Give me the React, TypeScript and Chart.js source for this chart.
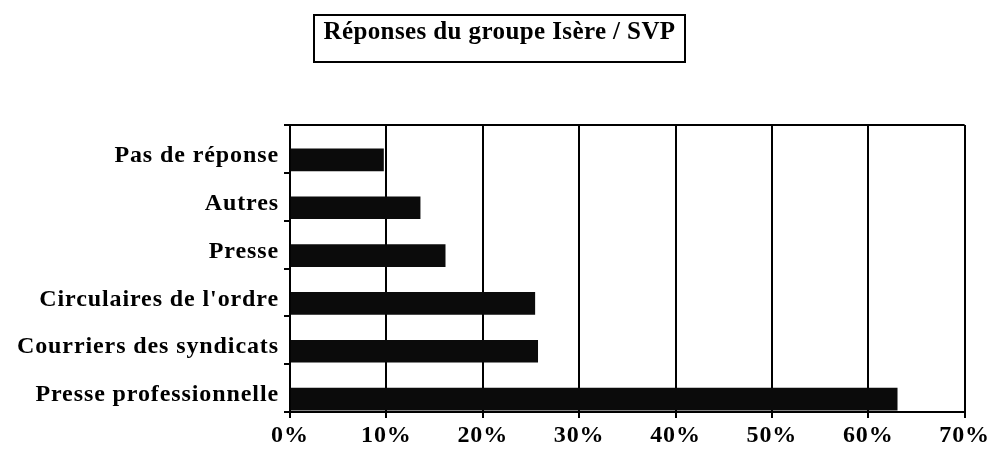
import React, { useEffect, useRef } from "react";
import { Chart, registerables } from "chart.js";

Chart.register(...registerables);

const title = "Réponses du groupe Isère / SVP";
const categories = [
  "Pas de réponse",
  "Autres",
  "Presse",
  "Circulaires de l'ordre",
  "Courriers des syndicats",
  "Presse professionnelle",
];
const values = [9.7, 13.5, 16.1, 25.4, 25.7, 63.0];
const placeholder = [0, 0, 0, 0, 0, 0];
const xMin = 0;
const xMax = 70;
const xStep = 10;

const FONT = "'Liberation Serif', 'Times New Roman', serif";
const SPACING = "0.9px";

const spacingPlugin = {
  id: "spacing",
  beforeInit(chart: any) {
    chart.ctx.letterSpacing = SPACING;
  },
  beforeUpdate(chart: any) {
    chart.ctx.letterSpacing = SPACING;
  },
  beforeDraw(chart: any) {
    chart.ctx.letterSpacing = SPACING;
  },
};

const frameTop = {
  id: "frameTop",
  afterDraw(chart: any) {
    const { ctx, chartArea } = chart;
    ctx.save();
    ctx.strokeStyle = "#000";
    ctx.lineWidth = 2;
    ctx.beginPath();
    ctx.moveTo(chartArea.left, chartArea.top);
    ctx.lineTo(chartArea.right, chartArea.top);
    ctx.stroke();
    ctx.restore();
  },
};

export default function App() {
  const ref = useRef<HTMLCanvasElement | null>(null);

  useEffect(() => {
    if (!ref.current) return;
    const chart = new Chart(ref.current, {
      type: "bar",
      data: {
        labels: categories,
        datasets: [
          {
            data: placeholder,
            backgroundColor: "rgba(0,0,0,0)",
            borderWidth: 0,
            barThickness: 22,
          },
          {
            data: values,
            backgroundColor: "#0b0b0b",
            borderWidth: 0,
            barThickness: 22,
          },
        ],
      },
      options: {
        indexAxis: "y",
        animation: false,
        responsive: false,
        maintainAspectRatio: false,
        layout: { padding: { top: 125, right: 27, left: 0, bottom: 0 } },
        plugins: {
          legend: { display: false },
          tooltip: { enabled: false },
          title: { display: false },
        },
        scales: {
          x: {
            type: "linear",
            min: xMin,
            max: xMax,
            ticks: {
              stepSize: xStep,
              callback: (v: any) => v + "%",
              color: "#000",
              font: { family: FONT, size: 24, weight: "bold" },
              padding: 3,
              maxRotation: 0,
            },
            grid: {
              color: "#000",
              lineWidth: 2,
              drawOnChartArea: true,
              drawTicks: true,
              tickLength: 6,
            },
            border: { display: true, color: "#000", width: 2 },
            afterFit: (s: any) => {
              s.height = 41;
            },
          },
          y: {
            type: "category",
            ticks: {
              color: "#000",
              font: { family: FONT, size: 24, weight: "bold" },
              padding: 5,
              labelOffset: 7,
            },
            grid: {
              display: true,
              offset: true,
              drawOnChartArea: false,
              drawTicks: true,
              tickLength: 6,
              color: "#000",
              lineWidth: 2,
            },
            border: { display: true, color: "#000", width: 2 },
            afterFit: (s: any) => {
              s.width = 290;
            },
          },
        },
      } as any,
      plugins: [spacingPlugin, frameTop],
    });
    return () => chart.destroy();
  }, []);

  return (
    <div style={{ position: "absolute", left: 0, top: 0, width: 993, height: 453, background: "#fff" }}>
      <canvas ref={ref} width={993} height={453} style={{ position: "absolute", left: 0, top: 0 }} />
      <div
        style={{
          position: "absolute",
          left: 313,
          top: 14,
          width: 373,
          height: 49,
          boxSizing: "border-box",
          border: "2px solid #000",
          fontFamily: FONT,
          fontWeight: "bold",
          fontSize: 25,
          lineHeight: "30px",
          letterSpacing: "0.4px",
          textAlign: "center",
          color: "#000",
          whiteSpace: "nowrap",
        }}
      >
        {title}
      </div>
    </div>
  );
}
